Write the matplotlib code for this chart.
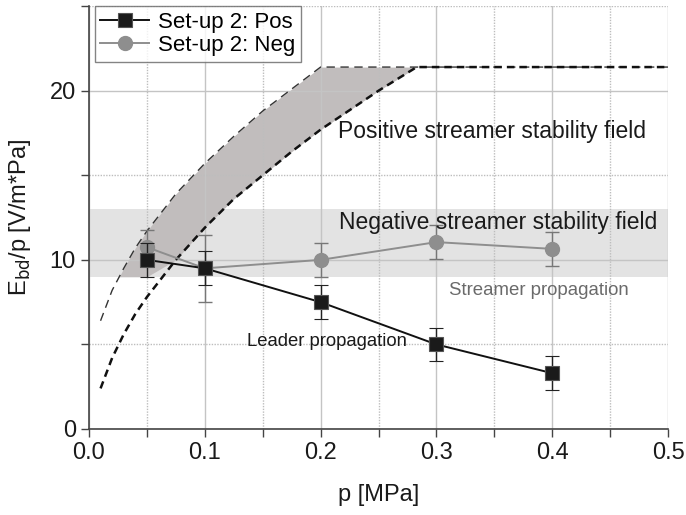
import numpy as np
import matplotlib
matplotlib.use("Agg")
import matplotlib.pyplot as plt
from matplotlib.ticker import MultipleLocator
from matplotlib.lines import Line2D

plt.rcParams['font.family'] = ['Liberation Sans', 'DejaVu Sans']

# Measured data
p = [0.05, 0.1, 0.2, 0.3, 0.4]
pos_val = [10.0, 9.5, 7.5, 5.0, 3.3]
pos_err = [1.0, 1.0, 1.0, 1.0, 1.0]
neg_val = [10.75, 9.5, 10.0, 11.05, 10.65]
neg_err = [1.0, 2.0, 1.0, 1.0, 1.0]

# Stability field boundary curves
curve_p = [0.01, 0.02, 0.03, 0.04, 0.05, 0.075, 0.1, 0.125, 0.15, 0.175, 0.2, 0.25, 0.283, 0.5]
upper_curve = [6.4, 8.2, 9.5, 10.7, 11.7, 13.9, 15.7, 17.3, 18.8, 20.1, 21.4, 21.4, 21.4, 21.4]
lower_curve = [2.4, 4.2, 5.6, 6.8, 7.8, 10.0, 11.9, 13.6, 15.0, 16.4, 17.7, 20.0, 21.4, 21.4]

neg_band = [9.0, 13.0]
pos_band_floor = 9.0

fig = plt.figure(figsize=(6.86, 5.15), dpi=100)
ax = fig.add_axes([0.1297, 0.167, 0.8441, 0.821])

ax.set_xlim(0, 0.5)
ax.set_ylim(0, 25)

# Negative streamer band
ax.axhspan(neg_band[0], neg_band[1], xmin=0, xmax=1, color='#e3e3e3', zorder=0.1, lw=0)

# Positive streamer stability region
cu = np.array(upper_curve)
cl = np.array(lower_curve)
floor = np.maximum(cl, pos_band_floor)
ax.fill_between(curve_p, floor, cu, where=cu >= floor, interpolate=True,
                color='#c1bdbd', lw=0, zorder=0.2)

# Boundary curves
ax.plot(curve_p, upper_curve, color='#333333', lw=1.0, ls=(0, (6, 4)), zorder=2)
ax.plot(curve_p, lower_curve, color='#111111', lw=1.8, ls=(0, (3, 2)), zorder=2)

# Grid
ax.xaxis.set_major_locator(MultipleLocator(0.1))
ax.xaxis.set_minor_locator(MultipleLocator(0.05))
ax.yaxis.set_major_locator(MultipleLocator(10))
ax.yaxis.set_minor_locator(MultipleLocator(5))
ax.set_axisbelow(True)
ax.grid(which='major', color='#c4c4c4', lw=1.0, ls='-', zorder=0.5)
ax.grid(which='minor', color='#bdbdbd', lw=1.0, ls=(0, (1, 1)), zorder=0.5)

# Data
ax.errorbar(p, pos_val, yerr=pos_err, color='#111111', lw=1.4, marker='s',
            markersize=10, markerfacecolor='#1a1a1a', markeredgecolor='#555555',
            markeredgewidth=0.8, capsize=5, elinewidth=1.0, capthick=1.0,
            ecolor='#222222', zorder=4)
ax.errorbar(p, neg_val, yerr=neg_err, color='#8e8e8e', lw=1.4, marker='o',
            markersize=10, markerfacecolor='#8e8e8e', markeredgecolor='#8e8e8e',
            capsize=5, elinewidth=1.0, capthick=1.0, ecolor='#777777',
            zorder=3)

# Annotations
ax.text(0.215, 17.6, 'Positive streamer stability field', fontsize=16.5,
        color='#1a1a1a', va='center', ha='left', zorder=5)
ax.text(0.216, 12.2, 'Negative streamer stability field', fontsize=16.5,
        color='#1a1a1a', va='center', ha='left', zorder=5)
ax.text(0.311, 8.2, 'Streamer propagation', fontsize=13.4,
        color='#6a6a6a', va='center', ha='left', zorder=5)
ax.text(0.1365, 5.2, 'Leader propagation', fontsize=13.3,
        color='#1a1a1a', va='center', ha='left', zorder=5)

# Axes styling
for s in ['top', 'right']:
    ax.spines[s].set_visible(False)
for s in ['left', 'bottom']:
    ax.spines[s].set_color('#444444')
    ax.spines[s].set_linewidth(1.2)
ax.tick_params(which='both', direction='out', color='#444444', labelsize=17,
               labelcolor='#1a1a1a')
ax.tick_params(which='major', length=6, width=1.0)
ax.tick_params(which='minor', length=6, width=1.0)
ax.set_xticks([0.0, 0.1, 0.2, 0.3, 0.4, 0.5])
ax.set_xticklabels(['0.0', '0.1', '0.2', '0.3', '0.4', '0.5'])
ax.set_yticks([0, 10, 20])
ax.set_yticklabels(['0', '10', '20'])

ax.set_xlabel('p [MPa]', fontsize=17, color='#1a1a1a', labelpad=14)
ax.set_ylabel(r'E$_{\mathrm{bd}}$/p [V/m*Pa]', fontsize=17, color='#1a1a1a', labelpad=12)

handles = [
    Line2D([], [], color='#111111', lw=1.4, marker='s', markersize=10,
           markerfacecolor='#1a1a1a', markeredgecolor='#555555', markeredgewidth=0.8),
    Line2D([], [], color='#8e8e8e', lw=1.4, marker='o', markersize=10,
           markerfacecolor='#8e8e8e', markeredgecolor='#8e8e8e'),
]
leg = ax.legend(handles, ['Set-up 2: Pos', 'Set-up 2: Neg'], loc='upper left',
                fontsize=16, frameon=True, fancybox=False,
                borderaxespad=0.0, handlelength=2.2, handletextpad=0.4,
                borderpad=0.25, labelspacing=0.1,
                bbox_to_anchor=(0.01, 1.0))
leg.get_frame().set_edgecolor('#666666')
leg.get_frame().set_linewidth(1.0)
leg.set_zorder(6)

fig.savefig('out.png', dpi=100)
